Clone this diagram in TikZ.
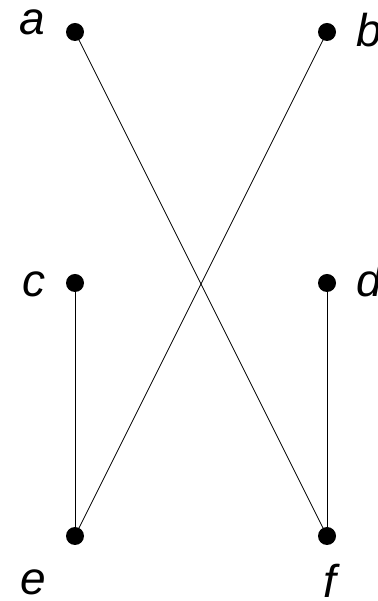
\documentclass[tikz,border=0pt]{standalone}
\usepackage{fontspec}
\setmainfont{Liberation Sans}
\begin{document}
\begin{tikzpicture}[x=1pt,y=1pt,
  dot/.style={circle,fill=black,inner sep=0pt,minimum size=18pt},
  lbl/.style={font=\fontsize{46}{50}\selectfont\itshape,inner sep=0pt,anchor=base},
  edge/.style={draw=black,line width=0.8pt}]
\useasboundingbox (0,0) rectangle (377,601);
\node[dot] (a) at (75,569) {};
\node[dot] (b) at (327,569) {};
\node[dot] (c) at (75,318) {};
\node[dot] (d) at (327,318) {};
\node[dot] (e) at (75,65) {};
\node[dot] (f) at (327,65) {};
\node[lbl] (la) at (32,566) {a};
\node[lbl,anchor=base west] (lb) at (356,554) {b};
\node[lbl] (lc) at (34,304) {c};
\node[lbl,anchor=base west] (ld) at (356,304) {d};
\node[lbl] (le) at (33,6) {e};
\node[lbl] (lf) at (330,4) {f};
\draw[edge] (a.center) -- (f.center);
\draw[edge] (b.center) -- (e.center);
\draw[edge] (c.center) -- (e.center);
\draw[edge] (d.center) -- (f.center);
\end{tikzpicture}
\end{document}
